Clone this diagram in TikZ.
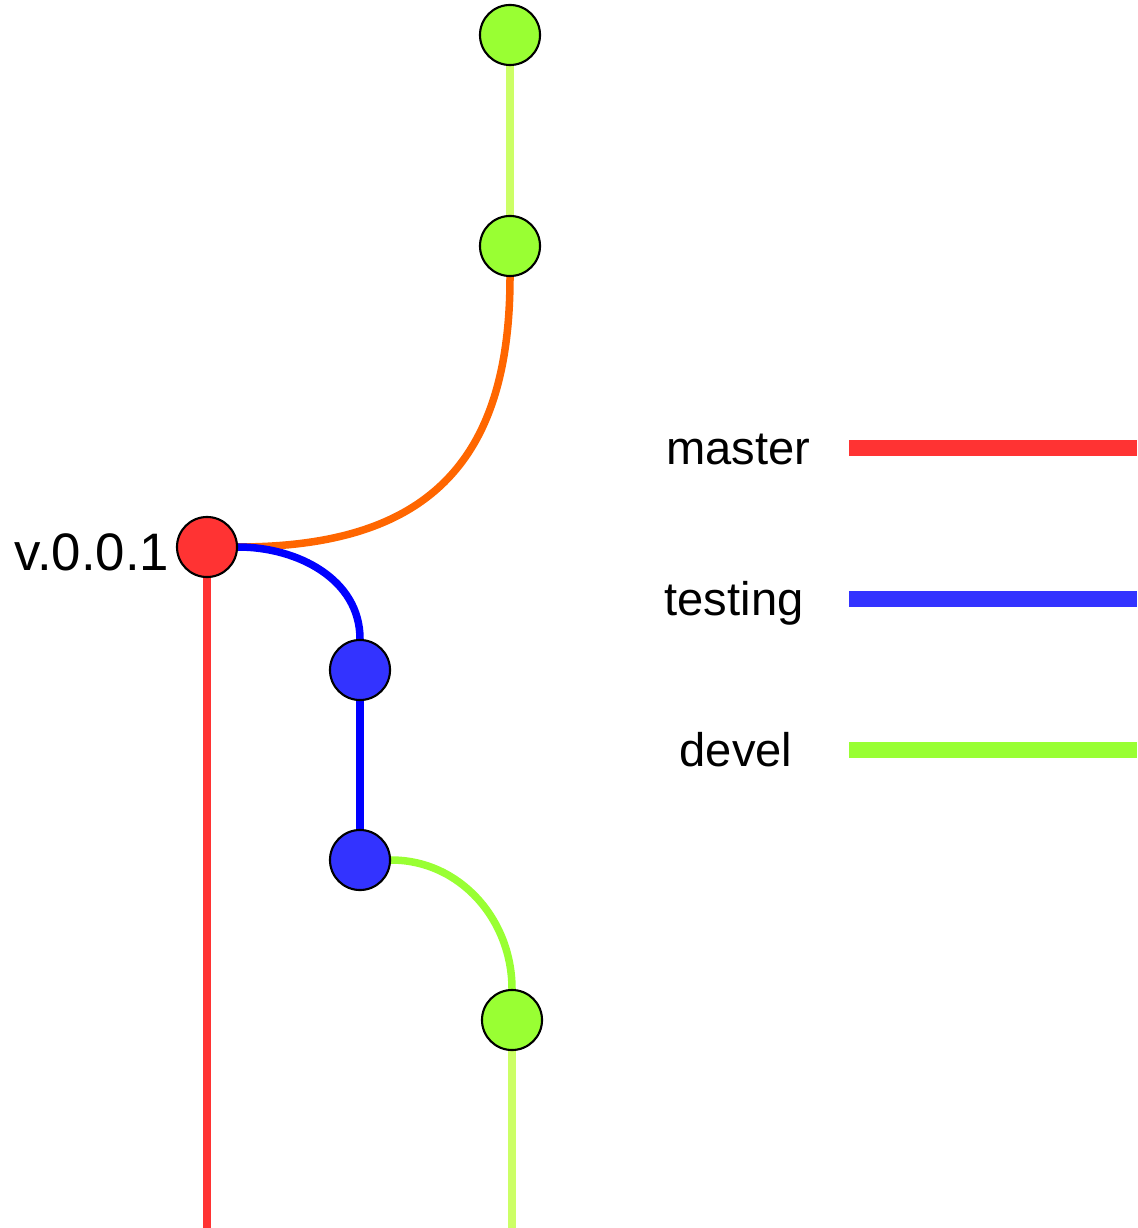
\documentclass[tikz,border=0pt]{standalone}
\usepackage{fontspec}
\setmainfont{Liberation Sans}
\usetikzlibrary{positioning, backgrounds}
\definecolor{masterred}{HTML}{FF3333}
\definecolor{testblue}{HTML}{3333FF}
\definecolor{curveblue}{HTML}{0000FF}
\definecolor{develgreen}{HTML}{99FF33}
\definecolor{palegreen}{HTML}{CCFF66}
\definecolor{mergeorange}{HTML}{FF6600}

\begin{document}
\begin{tikzpicture}[x=0.01cm, y=-0.01cm,
    commit/.style={circle, draw=black, line width=0.6pt, minimum size=0.6cm, inner sep=0pt},
    branch/.style={line width=0.075cm},
    legendline/.style={line width=0.16cm},
    legendtext/.style={font=\fontsize{13.4}{16}\selectfont, inner sep=0pt, anchor=base},
    tagtext/.style={font=\fontsize{15}{18}\selectfont, inner sep=0pt, anchor=base east}]
    \useasboundingbox (0,0) rectangle (1137,1228);

    % Commits
    \node[commit, fill=develgreen] (d1) at (510,35) {};
    \node[commit, fill=develgreen] (d2) at (510,246) {};
    \node[commit, fill=masterred] (m1) at (207,547) {};
    \node[commit, fill=testblue] (t1) at (360,670) {};
    \node[commit, fill=testblue] (t2) at (360,860) {};
    \node[commit, fill=develgreen] (d3) at (512,1020) {};

    % Tag on master
    \node[tagtext] (tag) at (170,570) {v.0.0.1};

    % Loose ends at the bottom
    \coordinate (mend) at (207,1228);
    \coordinate (dend) at (512,1228);

    % Branch lines (behind the commits)
    \begin{scope}[on background layer]
        \draw[branch, palegreen] (d1) -- (d2);
        \draw[branch, mergeorange] (d2.south) to[out=-90, in=0, looseness=1.25] (m1.east); % merge into master
        \draw[branch, curveblue] (m1.east) to[out=0, in=90] (t1.north); % testing off master
        \draw[branch, curveblue] (t1) -- (t2);
        \draw[branch, develgreen] (t2.east) to[out=0, in=90] (d3.north); % devel off testing
        \draw[branch, masterred] (m1) -- (mend);
        \draw[branch, palegreen] (d3) -- (dend);
    \end{scope}

    % Legend
    \node[legendtext] (lmaster) at (738,465) {master};
    \node[legendtext] (ltesting) at (734,615) {testing};
    \node[legendtext] (ldevel) at (736,766) {devel};
    \draw[legendline, masterred] (849,448) -- (1137,448);
    \draw[legendline, testblue] (849,599) -- (1137,599);
    \draw[legendline, develgreen] (849,750) -- (1137,750);
\end{tikzpicture}
\end{document}
